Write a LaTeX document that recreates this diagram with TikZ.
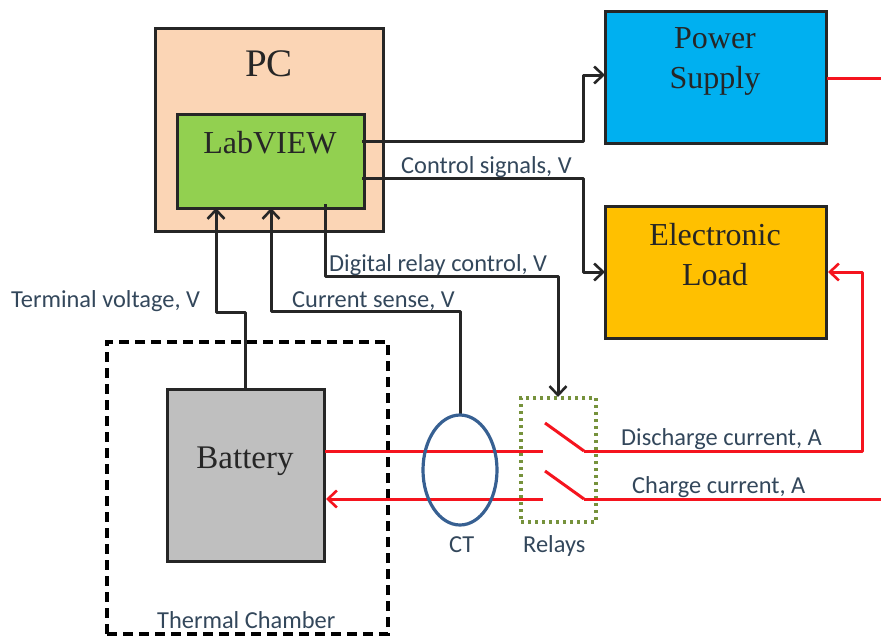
\documentclass[tikz,border=0pt]{standalone}
\usepackage{fontspec}
\setmainfont{Liberation Serif}
\newfontfamily\labelfont{Carlito}
\usetikzlibrary{arrows.meta}
\usetikzlibrary{shapes.geometric}
\definecolor{pcfill}{HTML}{FBD5B5}
\definecolor{labfill}{HTML}{92D050}
\definecolor{psfill}{HTML}{00B0F0}
\definecolor{loadfill}{HTML}{FFC000}
\definecolor{batfill}{HTML}{BFBFBF}
\definecolor{ctblue}{HTML}{376092}
\definecolor{relgreen}{HTML}{76923C}
\definecolor{wirered}{HTML}{F5141E}
\definecolor{wiredark}{HTML}{262626}
\definecolor{textblue}{HTML}{33475B}
\tikzset{
  boxnode/.style={draw=black!85,line width=3pt,inner sep=0pt,minimum width=#1},
  title/.style={font=\fontsize{32}{40}\selectfont,align=center,text=black!85,inner sep=0pt},
  tag/.style={font=\labelfont\fontsize{24.4}{28}\selectfont,text=textblue,inner sep=0pt,anchor=base west},
  sig/.style={draw=wiredark,line width=3pt,line join=round},
  pow/.style={draw=wirered,line width=3pt,line join=round},
  opentip/.style={-{Straight Barb[length=9pt,width=17pt,line width=2.6pt]}}
}
\begin{document}
\begin{tikzpicture}[x=1pt,y=-1pt]
      \useasboundingbox (0,0) rectangle (881,637);
      % boxes
      \node [boxnode=228pt,minimum height=203pt,fill=pcfill] (pc) at (269.5,130) {};
      \node [boxnode=187pt,minimum height=94pt,fill=labfill] (lab) at (271,161.5) {};
      \node [boxnode=221pt,minimum height=132pt,fill=psfill] (ps) at (716,77.5) {};
      \node [boxnode=221pt,minimum height=132pt,fill=loadfill] (load) at (716,272.5) {};
      \node [boxnode=157pt,minimum height=172pt,fill=batfill] (bat) at (246,475.5) {};
      \node [draw=black,line width=3.6pt,dash pattern=on 10pt off 6pt,minimum width=281pt,minimum height=292pt,inner sep=0pt] (chamber) at (247.5,488) {};
      \node [draw=relgreen,line width=3.4pt,dash pattern=on 3pt off 4pt,minimum width=75pt,minimum height=124pt,inner sep=0pt] (rel) at (558.5,460) {};
      % box titles
      \node [title,font=\fontsize{39}{44}\selectfont] (pct) at (269,64) {PC};
      \node [title] (labt) at (270,143) {LabVIEW};
      \node [title] (pst) at (715,61) {Power\\Supply};
      \node [title] (loadt) at (715,255) {Electronic\\Load};
      \node [title,font=\fontsize{33}{38}\selectfont] (batt) at (245,461) {Battery};
      % signal lines
      \coordinate (labr1) at (362,141);
      \coordinate (labr2) at (362,178);
      \coordinate (labb) at (325,204);
      \coordinate (pst1) at (605,75);
      \coordinate (loadt1) at (605,272);
      \coordinate (relt) at (558,397);
      \coordinate (labi1) at (216,208);
      \coordinate (labi2) at (271,208);
      \coordinate (batt1) at (245,390);
      \coordinate (ctt) at (460,415);
      \draw [sig,opentip] (labr1) -- (583,141) -- (583,75) -- (pst1);
      \draw [sig,opentip] (labr2) -- (583,178) -- (583,272) -- (loadt1);
      \draw [sig,opentip] (labb) -- (325,276) -- (558,276) -- (relt);
      \draw [sig,opentip] (ctt) -- (460,311) -- (271,311) -- (labi2);
      \draw [sig,opentip] (batt1) -- (245,312) -- (216,312) -- (labi1);
      % power lines
      \coordinate (psr) at (827,78);
      \coordinate (psout) at (881,78);
      \coordinate (batd) at (325,451);
      \coordinate (batc) at (326,499);
      \coordinate (reld) at (543,451);
      \coordinate (relc) at (543,499);
      \coordinate (swd) at (584,451);
      \coordinate (swc) at (584,499);
      \coordinate (loadr) at (828,272);
      \coordinate (chgin) at (881,499);
      \draw [pow] (psr) -- (psout);
      \draw [pow] (batd) -- (reld);
      \draw [pow,opentip] (relc) -- (batc);
      \draw [pow] (545,423) -- (swd);
      \draw [pow] (545,471) -- (swc);
      \draw [pow,opentip] (swd) -- (862,451) -- (862,272) -- (loadr);
      \draw [pow] (swc) -- (chgin);
      % current transformer
      \node [ellipse,draw=ctblue,line width=3.2pt,minimum width=74pt,minimum height=110pt,inner sep=0pt] (ct) at (460,470) {};
      % labels
      \node [tag] (l1) at (401,173) {Control signals, V};
      \node [tag] (l2) at (329,271) {Digital relay control, V};
      \node [tag] (l3) at (292,307) {Current sense, V};
      \node [tag] (l4) at (11,307) {Terminal voltage, V};
      \node [tag] (l5) at (621,445) {Discharge current, A};
      \node [tag] (l6) at (632,493) {Charge current, A};
      \node [tag] (l7) at (449,552) {CT};
      \node [tag] (l8) at (523,552) {Relays};
      \node [tag] (l9) at (157,628) {Thermal Chamber};
    \end{tikzpicture}
\end{document}
